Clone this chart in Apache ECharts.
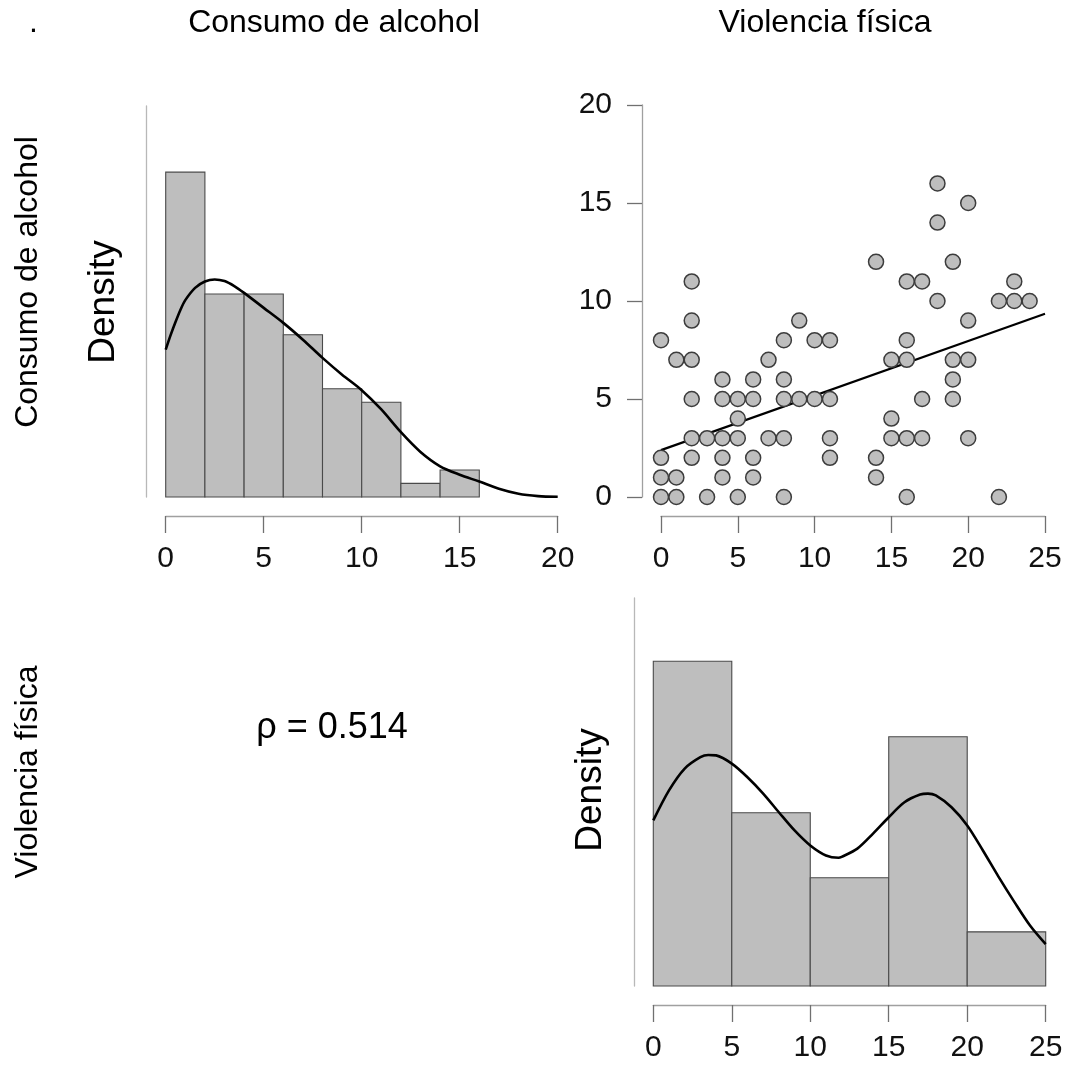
<!DOCTYPE html>
<html><head><meta charset="utf-8">
<script src="https://cdn.jsdelivr.net/npm/echarts@6/dist/echarts.min.js"></script>
<style>html,body{margin:0;padding:0;background:#fff}#c{width:1070px;height:1065px}</style>
</head><body><div id="c"></div>
<script>
// ---- data ----
const varNames = ['Consumo de alcohol', 'Violencia física'];
const alcoholBins = [0, 2, 4, 6, 8, 10, 12, 14, 16];
const alcoholDensity = [0.1429, 0.0893, 0.0893, 0.0714, 0.0476, 0.0417, 0.0060, 0.0119];
const alcoholKdeX = [0, 0.25, 0.5, 0.75, 1, 1.5, 2, 2.5, 3, 3.5, 4, 5, 6, 7, 8, 9, 10, 11, 12, 13, 14, 15, 16, 17, 18, 19, 20];
const alcoholKdeY = [0.0648, 0.0712, 0.0770, 0.0823, 0.0866, 0.0920, 0.0948, 0.0957, 0.0950, 0.0928, 0.0898, 0.0832, 0.0766, 0.0692, 0.0612, 0.0538, 0.0470, 0.0385, 0.0285, 0.0198, 0.0135, 0.0098, 0.0068, 0.0036, 0.0014, 0.0004, 0.0001];
const violenceBins = [0, 5, 10, 15, 20, 25];
const violenceDensity = [0.0714, 0.0381, 0.0238, 0.0548, 0.0119];
const violenceKdeX = [0, 1, 2, 3, 3.5, 4, 5, 6, 7, 8, 9, 10, 11, 11.8, 12, 13, 14, 15, 16, 17, 17.5, 18, 19, 20, 21, 22, 23, 24, 25];
const violenceKdeY = [0.0364, 0.0430, 0.0478, 0.0503, 0.0508, 0.0507, 0.0489, 0.0459, 0.0423, 0.0382, 0.0342, 0.0309, 0.0287, 0.0282, 0.0284, 0.0302, 0.0335, 0.0371, 0.0404, 0.0421, 0.0423, 0.0419, 0.0393, 0.0353, 0.0298, 0.0240, 0.0185, 0.0133, 0.0092];
// scatter: x = Violencia física, y = Consumo de alcohol
const scatterX = [0,0,0,0, 1,1,1, 2,2,2,2,2,2, 3,3, 4,4,4,4,4, 5,5,5,5, 6,6,6,6, 7,7, 8,8,8,8,8, 9,9, 10,10, 11,11,11,11, 14,14,14, 15,15,15, 16,16,16,16,16, 17,17,17, 18,18,18, 19,19,19,19, 20,20,20,20, 22,22, 23,23, 24];
const scatterY = [8,2,1,0, 7,1,0, 11,9,7,5,3,2, 3,0, 6,5,3,2,1, 5,4,3,0, 6,5,2,1, 7,3, 8,6,5,3,0, 9,5, 8,5, 8,5,3,2, 12,2,1, 7,4,3, 11,8,7,3,0, 11,5,3, 16,14,10, 12,7,6,5, 15,9,7,3, 10,0, 11,10, 10];
const fitLine = [[0, 2.39], [25, 9.35]];
const alcoholTicks = [0, 5, 10, 15, 20];
const violenceTicks = [0, 5, 10, 15, 20, 25];
const scatterYTicks = [0, 5, 10, 15, 20];
const rhoText = 'ρ = 0.514';
const densityLabel = 'Density';

// ---- chart ----
const FONT = 'Liberation Sans, Arial, sans-serif';
const chart = echarts.init(document.getElementById('c'), null, {renderer: 'canvas'});

function histData(bins, dens) {
  return dens.map((d, i) => [bins[i], bins[i + 1], d]);
}
function histRender(params, api) {
  const p0 = api.coord([api.value(0), 0]);
  const p1 = api.coord([api.value(1), api.value(2)]);
  return {
    type: 'rect',
    shape: {x: p0[0], y: p1[1], width: p1[0] - p0[0], height: p0[1] - p1[1]},
    style: {fill: '#bebebe', stroke: '#4a4a4a', lineWidth: 1.1}
  };
}
function zip(xs, ys) { return xs.map((x, i) => [x, ys[i]]); }

function xAxisCfg(grid, ticks) {
  return {
    gridIndex: grid, type: 'value', min: ticks[0], max: ticks[ticks.length - 1],
    interval: ticks[1] - ticks[0], offset: 19, position: 'bottom',
    axisLine: {show: true, onZero: false, lineStyle: {color: '#a0a0a0', width: 1.3}},
    axisTick: {show: true, length: 17, lineStyle: {color: '#707070', width: 1.3}},
    axisLabel: {fontSize: 30, color: '#111', margin: 28, fontFamily: FONT, showMinLabel: true, showMaxLabel: true},
    splitLine: {show: false}
  };
}
function hiddenY(grid, max) {
  return {
    gridIndex: grid, type: 'value', min: 0, max: max, offset: 19, position: 'left',
    axisLine: {show: true, onZero: false, lineStyle: {color: '#b8b8b8', width: 1.3}},
    axisTick: {show: false}, axisLabel: {show: false}, splitLine: {show: false}
  };
}

const option = {
  backgroundColor: '#ffffff',
  animation: false,
  grid: [
    {left: 165.7, top: 106, width: 392, height: 391},
    {left: 661, top: 105, width: 384, height: 392},
    {left: 653.3, top: 598, width: 392.4, height: 388}
  ],
  xAxis: [
    xAxisCfg(0, alcoholTicks),
    xAxisCfg(1, violenceTicks),
    xAxisCfg(2, violenceTicks)
  ],
  yAxis: [
    hiddenY(0, 0.172),
    {
      gridIndex: 1, type: 'value', min: scatterYTicks[0], max: scatterYTicks[scatterYTicks.length - 1],
      interval: 5, offset: 19, position: 'left',
      axisLine: {show: true, onZero: false, lineStyle: {color: '#a0a0a0', width: 1.3}},
      axisTick: {show: true, length: 15, lineStyle: {color: '#707070', width: 1.3}},
      axisLabel: {fontSize: 30, color: '#111', margin: 30, fontFamily: FONT},
      splitLine: {show: false}
    },
    hiddenY(2, 0.0853)
  ],
  series: [
    {type: 'custom', xAxisIndex: 0, yAxisIndex: 0, renderItem: histRender,
     encode: {x: [0, 1], y: 2}, data: histData(alcoholBins, alcoholDensity), z: 2},
    {type: 'line', xAxisIndex: 0, yAxisIndex: 0, data: zip(alcoholKdeX, alcoholKdeY),
     smooth: 0.3, showSymbol: false, symbol: 'none', lineStyle: {color: '#000', width: 2.6}, z: 3},
    {type: 'line', xAxisIndex: 1, yAxisIndex: 1, data: fitLine, showSymbol: false, symbol: 'none',
     lineStyle: {color: '#000', width: 2.2}, z: 3},
    {type: 'scatter', xAxisIndex: 1, yAxisIndex: 1, data: zip(scatterX, scatterY), symbolSize: 15,
     itemStyle: {color: '#bebebe', borderColor: '#3c3c3c', borderWidth: 1.5, opacity: 1}, z: 4},
    {type: 'custom', xAxisIndex: 2, yAxisIndex: 2, renderItem: histRender,
     encode: {x: [0, 1], y: 2}, data: histData(violenceBins, violenceDensity), z: 2},
    {type: 'line', xAxisIndex: 2, yAxisIndex: 2, data: zip(violenceKdeX, violenceKdeY),
     smooth: 0.3, showSymbol: false, symbol: 'none', lineStyle: {color: '#000', width: 2.6}, z: 3}
  ],
  graphic: [
    {type: 'text', left: 29, top: 7, style: {text: '.', fontSize: 32, fontFamily: FONT, fill: '#000'}},
    {type: 'text', x: 334, y: 23, style: {text: varNames[0], fontSize: 32, fontFamily: FONT, fill: '#000', align: 'center', verticalAlign: 'middle'}},
    {type: 'text', x: 825, y: 23, style: {text: varNames[1], fontSize: 32, fontFamily: FONT, fill: '#000', align: 'center', verticalAlign: 'middle'}},
    {type: 'text', x: 28, y: 282, rotation: Math.PI / 2, style: {text: varNames[0], fontSize: 32, fontFamily: FONT, fill: '#000', align: 'center', verticalAlign: 'middle'}},
    {type: 'text', x: 28, y: 772, rotation: Math.PI / 2, style: {text: varNames[1], fontSize: 32, fontFamily: FONT, fill: '#000', align: 'center', verticalAlign: 'middle'}},
    {type: 'text', x: 104, y: 302, rotation: Math.PI / 2, style: {text: densityLabel, fontSize: 37, fontFamily: FONT, fill: '#000', align: 'center', verticalAlign: 'middle'}},
    {type: 'text', x: 591, y: 790, rotation: Math.PI / 2, style: {text: densityLabel, fontSize: 37, fontFamily: FONT, fill: '#000', align: 'center', verticalAlign: 'middle'}},
    {type: 'text', x: 332, y: 728, style: {text: rhoText, fontSize: 36, fontFamily: FONT, fill: '#000', align: 'center', verticalAlign: 'middle'}}
  ]
};
chart.setOption(option);
</script>
</body></html>
